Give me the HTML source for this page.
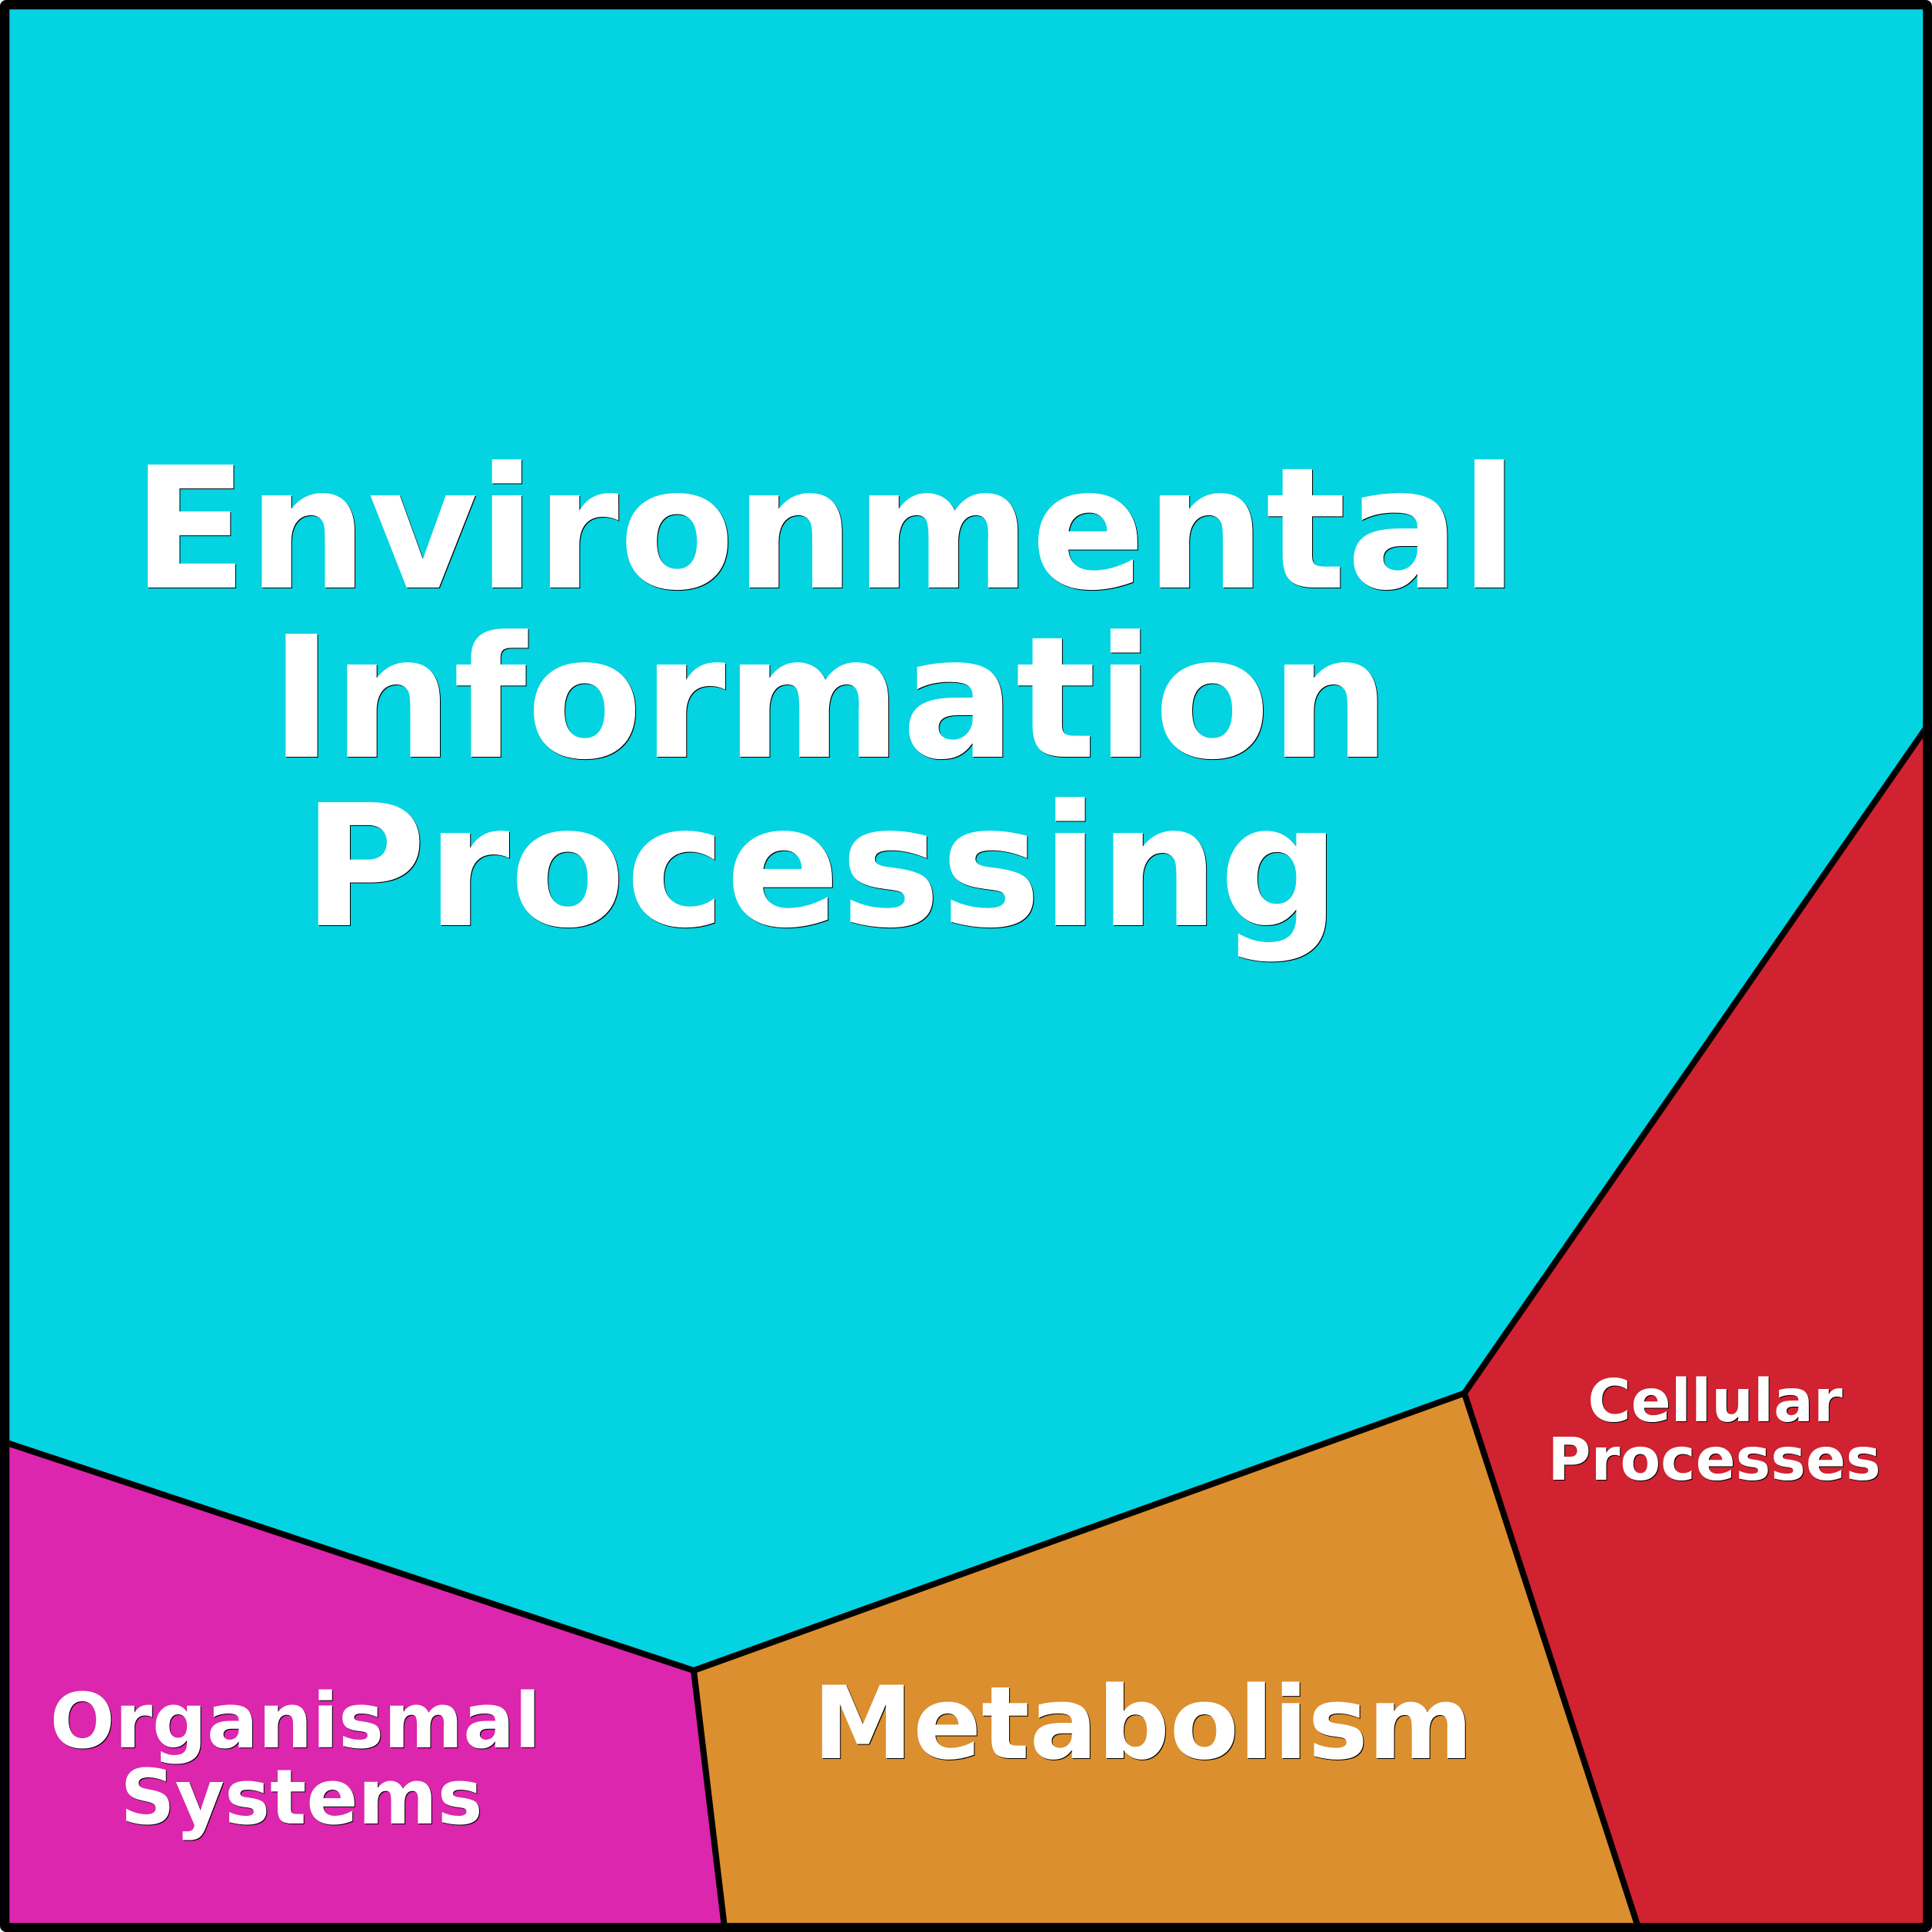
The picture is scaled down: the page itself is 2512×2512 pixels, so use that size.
<!DOCTYPE html>
<html><head><meta charset="utf-8"><style>html,body{margin:0;padding:0;background:#fff}svg{display:block}
text{font-family:"DejaVu Sans",sans-serif;font-weight:700;text-anchor:middle}</style></head><body>
<svg xmlns="http://www.w3.org/2000/svg" width="2512" height="2512" viewBox="0 0 2512 2512">
<defs><clipPath id="c"><rect x="12.3" y="12.3" width="2487.9" height="2487.9"/></clipPath></defs>
<rect width="2512" height="2512" rx="8" fill="#000"/>
<g clip-path="url(#c)">
<polygon points="6,6 2506,6 2506,944 1904,1811.5 902,2172 6,1875" fill="#04d3e1"/>
<polygon points="6,1875 902,2172 942,2506 6,2506" fill="#db26ad"/>
<polygon points="902,2172 1904,1811.5 2130,2506 942,2506" fill="#dc8f2e"/>
<polygon points="1904,1811.5 2506,944 2506,2506 2130,2506" fill="#d02230"/>
<g fill="none" stroke="#000" stroke-width="8" stroke-linejoin="round">
<polyline points="6,1875 902,2172 1904,1811.5 2506,944"/>
<line x1="902" y1="2172" x2="942" y2="2506"/>
<line x1="1904" y1="1811.5" x2="2130" y2="2506"/>
</g>
</g>
<g fill="#000" transform="translate(1,1)">
<text x="1073" y="764" font-size="219.5">Environmental</text>
<text x="1079.5" y="984" font-size="219.5">Information</text>
<text x="1068" y="1203" font-size="219.5">Processing</text>
<text x="1486" y="2286" font-size="131">Metabolism</text>
<text x="384" y="2272" font-size="99">Organismal</text>
<text x="392" y="2371" font-size="99">Systems</text>
<text x="2230" y="1848" font-size="76.7">Cellular</text>
<text x="2229" y="1924" font-size="76.7">Processes</text>
</g>
<g fill="#fff">
<text x="1073" y="764" font-size="219.5">Environmental</text>
<text x="1079.5" y="984" font-size="219.5">Information</text>
<text x="1068" y="1203" font-size="219.5">Processing</text>
<text x="1486" y="2286" font-size="131">Metabolism</text>
<text x="384" y="2272" font-size="99">Organismal</text>
<text x="392" y="2371" font-size="99">Systems</text>
<text x="2230" y="1848" font-size="76.7">Cellular</text>
<text x="2229" y="1924" font-size="76.7">Processes</text>
</g>
</svg>
</body></html>
